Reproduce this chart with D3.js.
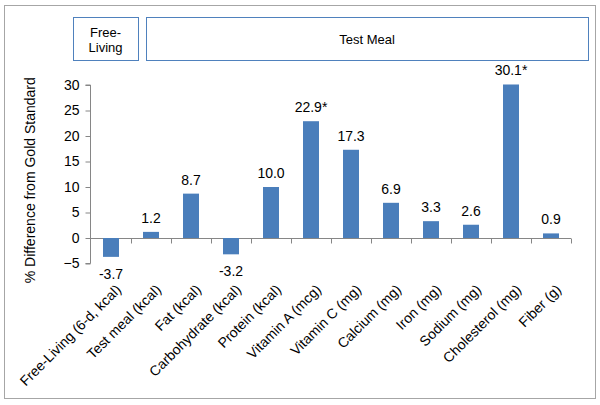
<!DOCTYPE html>
<html><head><meta charset="utf-8">
<script src="https://cdn.jsdelivr.net/npm/d3@7"></script>
<style>body{margin:0;background:#fff;font-family:"Liberation Sans",Arial,sans-serif;}</style>
</head><body>
<svg id="c" width="600" height="405"></svg>
<script>
const categories = ["Free-Living (6-d, kcal)","Test meal (kcal)","Fat (kcal)","Carbohydrate (kcal)","Protein (kcal)","Vitamin A (mcg)","Vitamin C (mg)","Calcium (mg)","Iron (mg)","Sodium (mg)","Cholesterol (mg)","Fiber (g)"];
const values = [-3.7,1.2,8.7,-3.2,10.0,22.9,17.3,6.9,3.3,2.6,30.1,0.9];
const valueLabels = ["-3.7","1.2","8.7","-3.2","10.0","22.9*","17.3","6.9","3.3","2.6","30.1*","0.9"];
const yTicks = [-5,0,5,10,15,20,25,30];
const groups = [{name:"Free-\nLiving", from:0, to:0},{name:"Test Meal", from:1, to:11}];

const svg = d3.select("#c");
const font = "Liberation Sans, Arial, sans-serif";
svg.append("rect").attr("x",4.5).attr("y",5.5).attr("width",591).attr("height",393)
  .attr("fill","#fff").attr("stroke","#a6a6a6").attr("stroke-width",1);

const x = d3.scaleBand().domain(categories).range([91,571]).paddingInner(0.6).paddingOuter(0.3);
const y = d3.scaleLinear().domain([-5,30]).range([263.5,85]);

// y axis
const ya = svg.append("g").attr("transform","translate(90.5,0)")
  .call(d3.axisLeft(y).tickValues(yTicks).tickSize(5).tickPadding(6));
ya.select(".domain").attr("stroke","#868686").attr("d","M-5,"+y(30)+"H0V"+y(-5)+"H-5");
ya.selectAll(".tick line").attr("stroke","#868686");
ya.selectAll("text").attr("font-family",font).attr("font-size",14).attr("fill","#000");

// x axis at zero
const step = x.step();
const xa = svg.append("g").attr("transform","translate(0,"+(Math.round(y(0))+0.5)+")");
xa.append("line").attr("x1",90).attr("x2",571).attr("stroke","#868686");
const edges = d3.range(categories.length+1).map(i=>91+ i*step);
xa.selectAll("line.t").data(edges.slice(1)).enter().append("line").attr("class","t")
  .attr("x1",d=>Math.round(d)+0.5).attr("x2",d=>Math.round(d)+0.5).attr("y1",0).attr("y2",5).attr("stroke","#868686");

// bars
svg.append("g").selectAll("rect").data(values).enter().append("rect")
  .attr("x",(d,i)=>x(categories[i])).attr("width",x.bandwidth())
  .attr("y",d=>y(Math.max(0,d))).attr("height",d=>Math.abs(y(d)-y(0)))
  .attr("fill","#4a7ebb");

// value labels
svg.append("g").selectAll("text").data(values).enter().append("text")
  .attr("x",(d,i)=>x(categories[i])+x.bandwidth()/2)
  .attr("y",d=> d>=0 ? y(d)-9 : y(d)+22)
  .attr("text-anchor","middle").attr("font-family",font).attr("font-size",14).attr("fill","#000")
  .text((d,i)=>valueLabels[i]);

// category labels
svg.append("g").selectAll("text").data(categories).enter().append("text")
  .attr("transform",d=>"translate("+(x(d)+x.bandwidth()/2+11)+","+(y(-5)+27)+") rotate(-45)")
  .attr("text-anchor","end").attr("font-family",font).attr("font-size",14).attr("fill","#000")
  .text(d=>d);

// y title
svg.append("text").attr("transform","translate(35,"+((y(30)+y(-5))/2+6)+") rotate(-90)")
  .attr("text-anchor","middle").attr("font-family",font).attr("font-size",14).attr("fill","#000")
  .text("% Difference from Gold Standard");

// group boxes
const boxX = [[73,138],[146,588]];
groups.forEach((g,i)=>{
  svg.append("rect").attr("x",boxX[i][0]+0.5).attr("y",17.5).attr("width",boxX[i][1]-boxX[i][0]).attr("height",43)
    .attr("fill","#fff").attr("stroke","#4f81bd").attr("stroke-width",1);
  const lines = g.name.split("\n");
  const t = svg.append("text").attr("text-anchor","middle").attr("font-family",font).attr("font-size",13).attr("fill","#000");
  lines.forEach((l,k)=>{
    t.append("tspan").attr("x",(boxX[i][0]+boxX[i][1])/2).attr("y",44 - (lines.length-1)*7.5 + k*15).text(l);
  });
});
</script>
</body></html>
